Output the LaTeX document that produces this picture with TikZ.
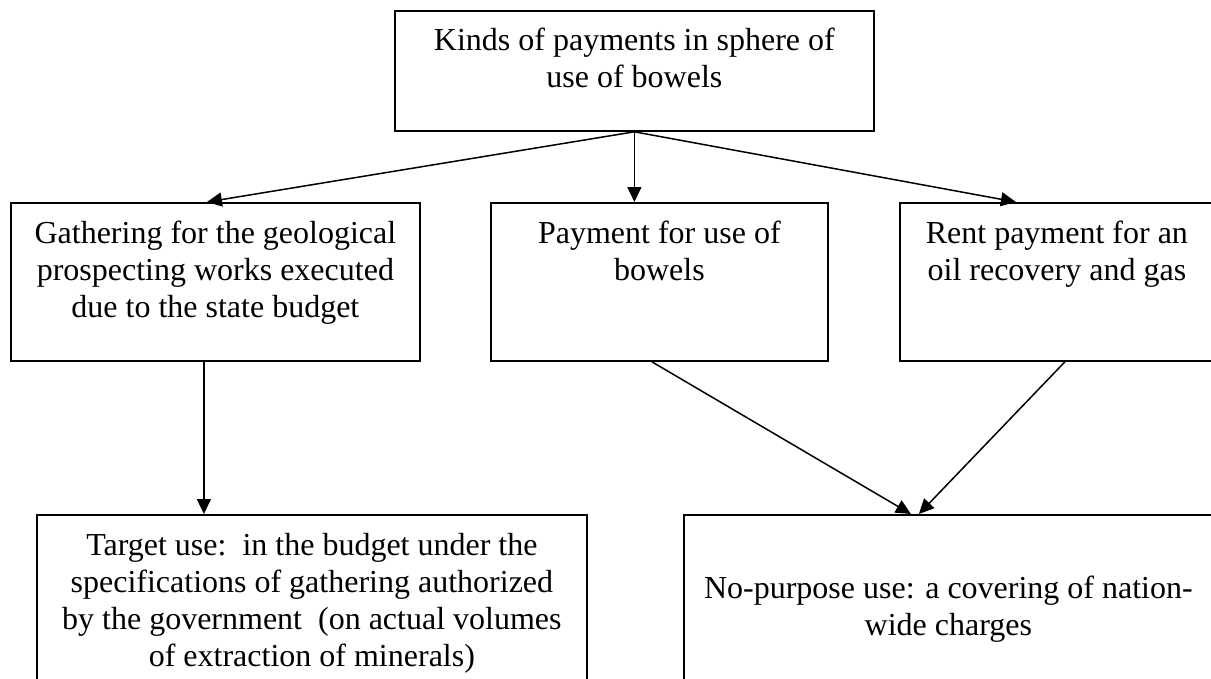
\documentclass[tikz,border=0pt]{standalone}
\usepackage{fontspec}
\setmainfont{Liberation Serif}
\usetikzlibrary{arrows.meta}
% box text: height, width, top gap, lines
\newcommand{\boxtext}[4]{\parbox[c][#1][t]{#2}{\vspace*{#3}\centering\strut #4\par}}
\tikzset{
  pbox/.style={draw, line width=1.8pt, inner sep=0pt, anchor=north west,
    font=\fontsize{32}{36.8}\selectfont},
  parrow/.style={line width=1.5pt, -{Triangle[length=15pt,width=14pt]}}
}
\begin{document}
\begin{tikzpicture}[x=1pt,y=-1pt]
  \useasboundingbox (0,0) rectangle (1211,678);
  \node[pbox] (kinds) at (394,10) {\boxtext{120pt}{479pt}{14pt}{Kinds of payments in sphere of\\use of bowels}};
  % second row
  \node[pbox] (gather) at (10,202) {\boxtext{158pt}{409pt}{15pt}{Gathering for the geological\\prospecting works executed\\due to the state budget}};
  \node[pbox] (payuse) at (490,202) {\boxtext{158pt}{337pt}{15pt}{Payment for use of\\bowels}};
  \node[pbox] (rent) at (899,202) {\boxtext{158pt}{314pt}{15pt}{Rent payment for an\\oil recovery and gas}};
  % bottom row, cut by the page edge
  \node[pbox] (target) at (36,514) {\boxtext{180pt}{550pt}{15pt}{Target use:\ \ in the budget under the\\specifications of gathering authorized\\by the government\ \ (on actual volumes\\of extraction of minerals)}};
  \node[pbox] (nopurp) at (683,514) {\boxtext{180pt}{529pt}{58pt}{No-purpose use: a covering of nation-\\wide charges}};

  \draw[parrow] (kinds.south) -- ([xshift=-8.5pt]gather.north);
  \draw[parrow] (kinds.south) -- (kinds.south |- payuse.north);
  \draw[parrow] (kinds.south) -- ([xshift=-41pt]rent.north);
  \coordinate (gdrop) at ([xshift=-11.5pt]gather.south);
  \draw[parrow] (gdrop) -- (gdrop |- target.north);
  \draw[parrow] ([xshift=-7.5pt]payuse.south) -- ([xshift=-37.5pt]nopurp.north);
  \draw[parrow] ([xshift=8pt]rent.south) -- ([xshift=-29.5pt]nopurp.north);
\end{tikzpicture}
\end{document}
